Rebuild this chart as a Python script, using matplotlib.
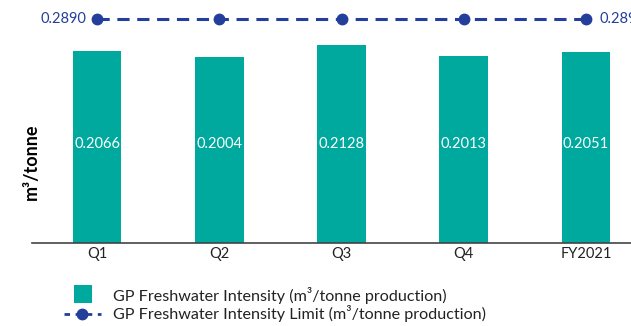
import matplotlib.pyplot as plt
from matplotlib.lines import Line2D
from matplotlib.patches import Rectangle

plt.rcParams['font.family'] = ['Lato', 'DejaVu Sans']

categories = ['Q1', 'Q2', 'Q3', 'Q4', 'FY2021']
intensity = [0.2066, 0.2004, 0.2128, 0.2013, 0.2051]
limit = [0.2890, 0.2890, 0.2890, 0.2890, 0.2890]
legend_labels = ['GP Freshwater Intensity (m³/tonne production)',
                 'GP Freshwater Intensity Limit (m³/tonne production)']

teal = '#00A99D'
blue = '#233F9B'
dark = '#222222'

W, H = 631, 326
fig = plt.figure(figsize=(W / 100, H / 100), dpi=100)

# axes box in pixels: left 32, bottom baseline 243, top 5
ax = fig.add_axes([32 / W, (H - 243) / H, 1 - 32 / W, (243 - 5) / H])
x = list(range(len(categories)))
ax.bar(x, intensity, width=0.4, color=teal, zorder=2)
ax.set_xlim(-0.532, 4.368)
ax.set_ylim(0, 238 / 929)

for xi, v in zip(x, intensity):
    ax.text(xi, 0.1066, f'{v:.4f}', color='white', ha='center', va='center', fontsize=10.5)

for s in ['top', 'right', 'left']:
    ax.spines[s].set_visible(False)
ax.spines['bottom'].set_color('#444444')
ax.spines['bottom'].set_linewidth(1.2)
ax.set_yticks([])
ax.set_xticks(x)
ax.set_xticklabels(categories, fontsize=10.5, color=dark)
ax.tick_params(axis='x', length=0, pad=3)
ax.set_ylabel('m³/tonne', fontsize=13, fontweight='bold')
ax.yaxis.set_label_coords(0.013, 0.34)

# limit line on its own scale
ax2 = ax.twinx()
ax2.set_ylim(0, 0.289 / ((243 - 19) / 238))
ax2.plot(x, limit, color=blue, linestyle=(0, (4, 2.5)), linewidth=2.2,
         marker='o', markersize=7.5, zorder=3)
ax2.text(x[0] - 0.09, limit[0], f'{limit[0]:.4f}', color=blue, ha='right', va='center', fontsize=10.5)
ax2.text(x[-1] + 0.11, limit[-1], f'{limit[-1]:.4f}', color=blue, ha='left', va='center', fontsize=10.5)
ax2.set_yticks([])
for s in ax2.spines.values():
    s.set_visible(False)

# legend drawn by hand to match the key sizes
fig.patches.append(Rectangle((74 / W, 1 - 303 / H), 18 / W, 18 / H, transform=fig.transFigure,
                             facecolor=teal, edgecolor='none'))
fig.lines.append(Line2D([64 / W, 101 / W], [1 - 314 / H, 1 - 314 / H], transform=fig.transFigure,
                        color=blue, linestyle=(0, (2, 2)), linewidth=2))
fig.lines.append(Line2D([82 / W], [1 - 314 / H], transform=fig.transFigure, color=blue,
                        marker='o', markersize=7.5))
fig.text(113 / W, 1 - 295 / H, legend_labels[0], ha='left', va='center', fontsize=11.6, color=dark)
fig.text(113 / W, 1 - 313 / H, legend_labels[1], ha='left', va='center', fontsize=11.6, color=dark)

fig.savefig('out.png', dpi=100)
